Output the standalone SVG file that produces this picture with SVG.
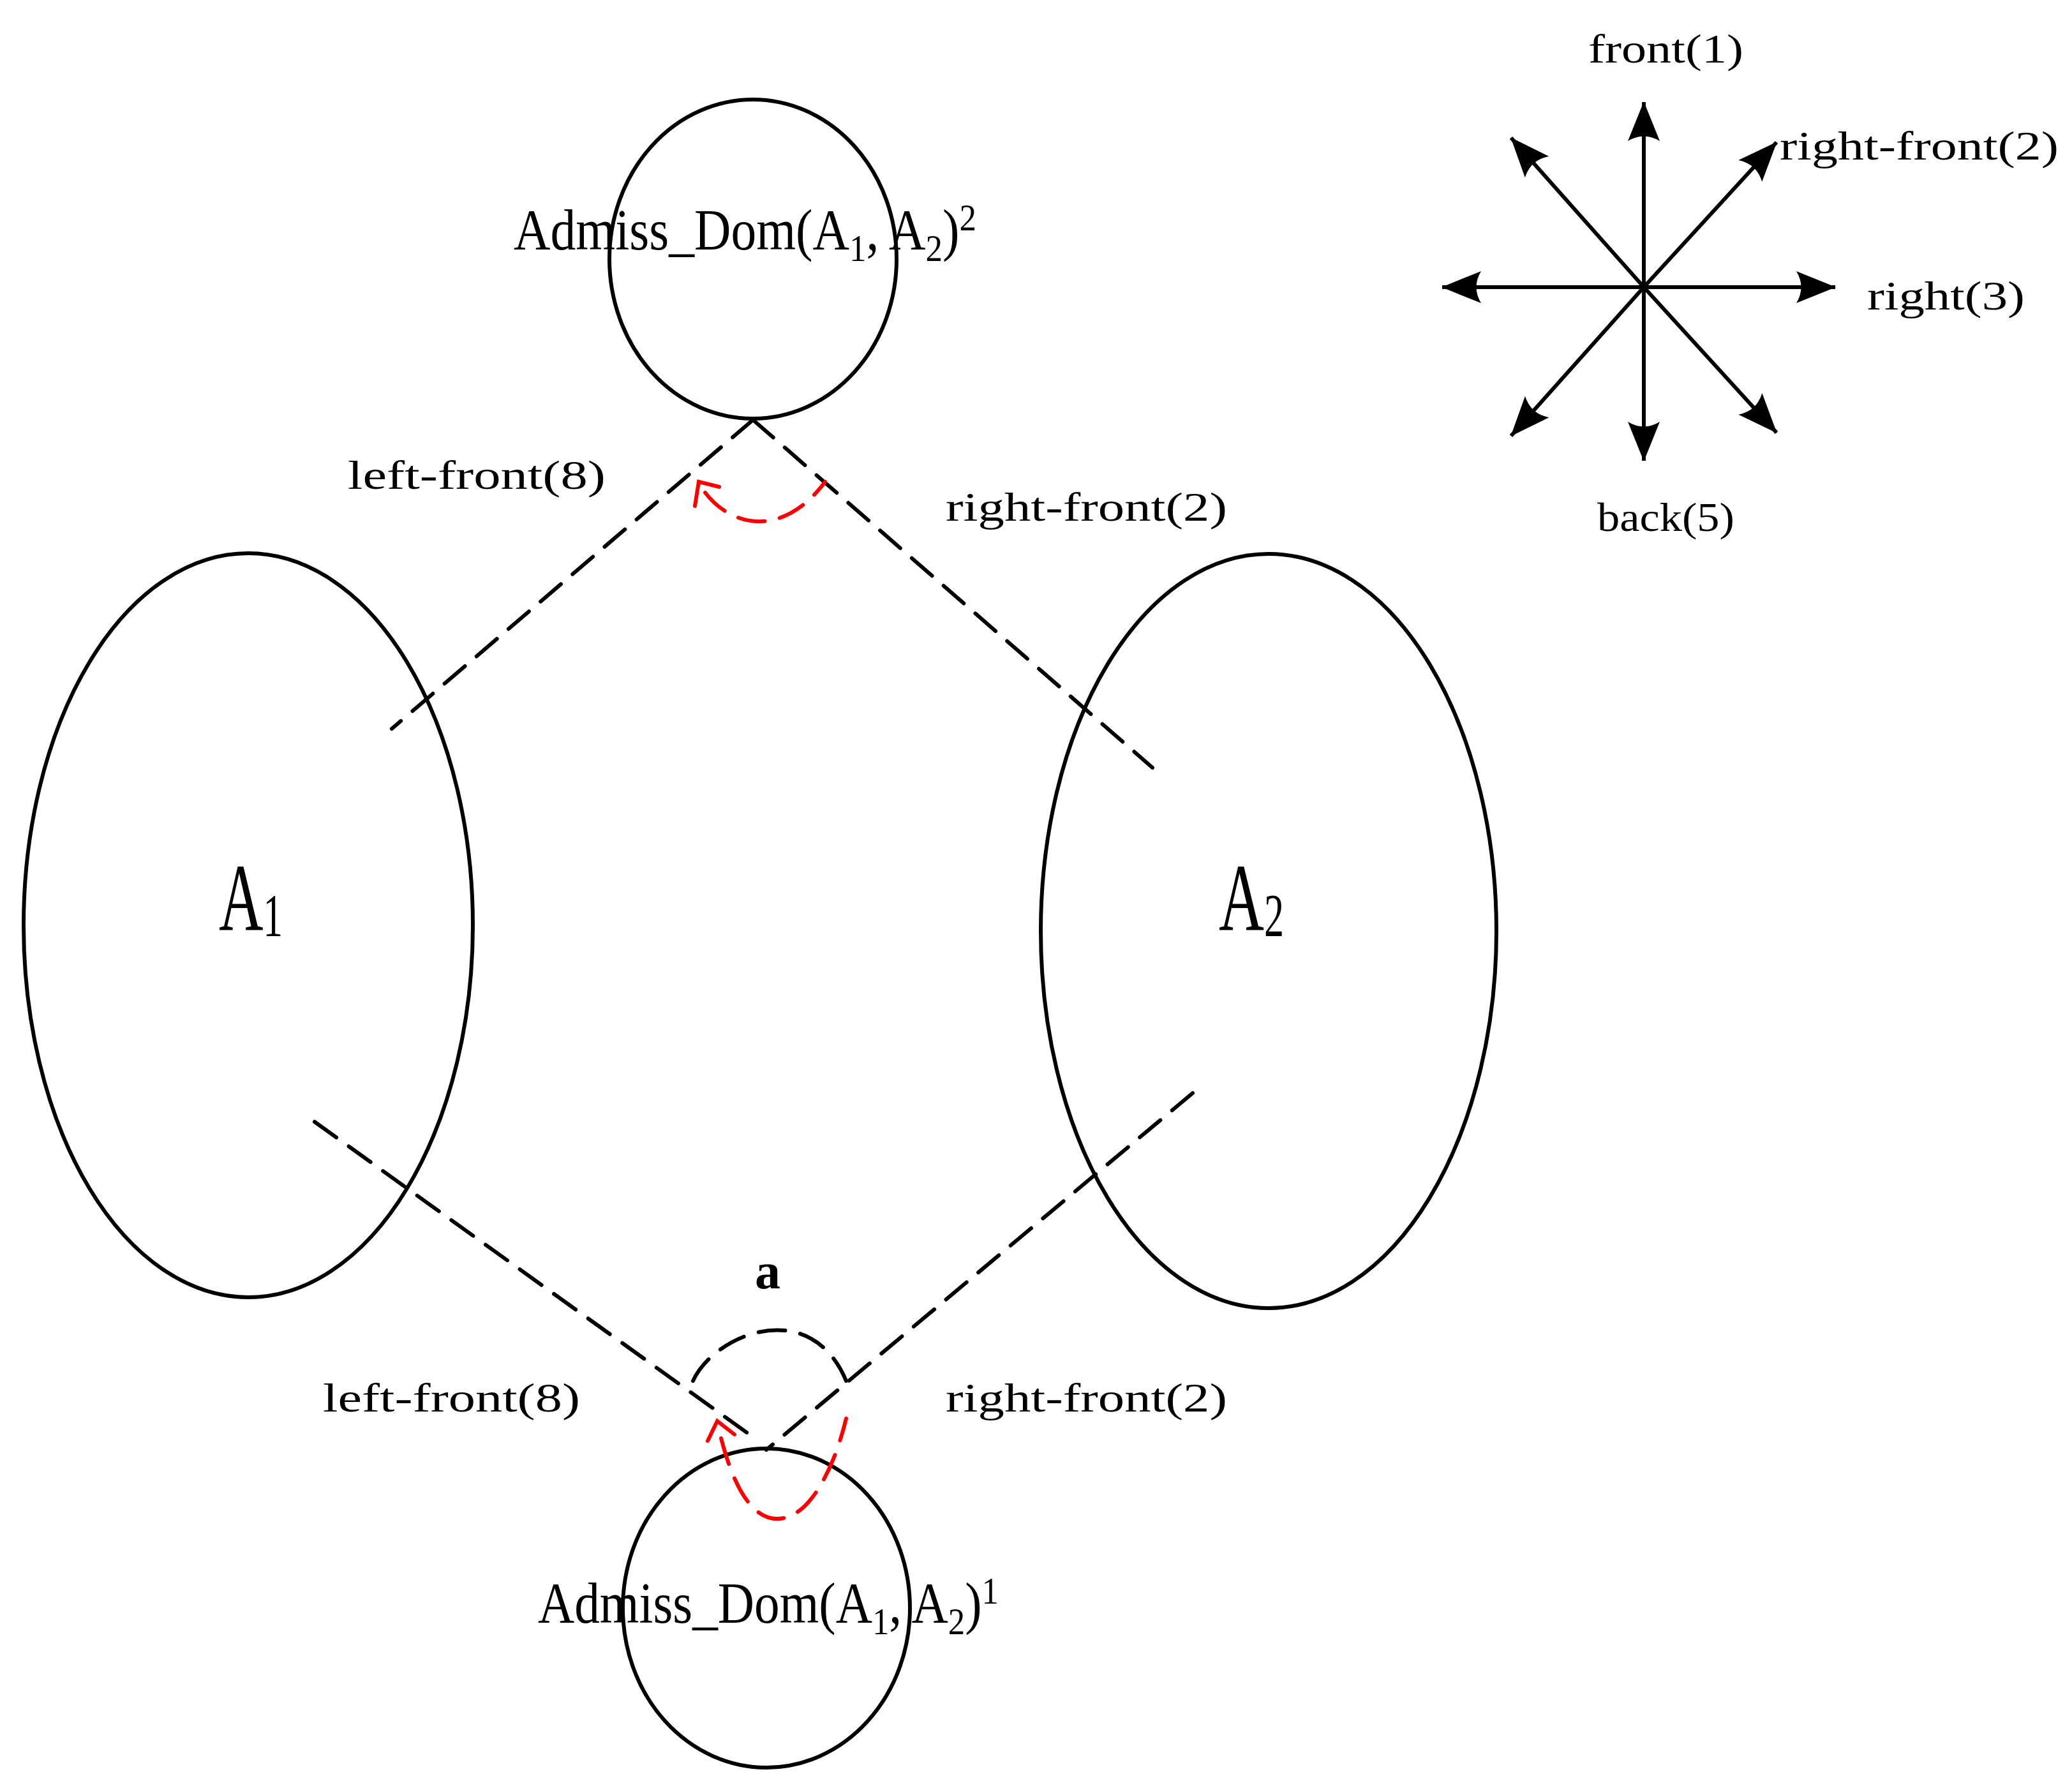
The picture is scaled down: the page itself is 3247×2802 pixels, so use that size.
<svg xmlns="http://www.w3.org/2000/svg" width="3247" height="2802" viewBox="0 0 3247 2802">
<style>
.n{fill:none;stroke:#000;stroke-width:6}
.d{fill:none;stroke:#000;stroke-width:6;stroke-dasharray:42 24;stroke-linecap:round}
.r{fill:none;stroke:#f00;stroke-width:6;stroke-dasharray:42 24;stroke-linecap:round}
.ra{fill:none;stroke:#f00;stroke-width:6;stroke-linecap:round}
.c{stroke:#000;stroke-width:6;fill:none}
text{font-family:"Liberation Serif",serif;fill:#000}
.l{font-size:64px}
.b{font-size:90px}
.big{font-size:150px}
</style>
<defs>
<marker id="ah" viewBox="0 0 12 10" refX="11" refY="5" markerWidth="12" markerHeight="10" markerUnits="userSpaceOnUse" orient="auto" overflow="visible">
<path d="M-50,-20 L12,5 L-50,30 Q-35,5 -50,-20 Z" fill="#000"/>
</marker>
</defs>
<rect width="3247" height="2802" fill="#fff"/>
<g id="top"><ellipse class="n" cx="1180" cy="406" rx="225" ry="250"/>
<text class="b" x="805" y="391" textLength="725" lengthAdjust="spacingAndGlyphs">Admiss_Dom(A<tspan font-size="60" dy="18">1</tspan><tspan dy="-18">, A</tspan><tspan font-size="60" dy="18">2</tspan><tspan dy="-18">)</tspan><tspan font-size="60" dy="-30">2</tspan></text></g>
<g id="bottom"><ellipse class="n" cx="1201" cy="2520" rx="225" ry="250"/>
<text class="b" x="843" y="2543" textLength="722" lengthAdjust="spacingAndGlyphs">Admiss_Dom(A<tspan font-size="60" dy="18">1</tspan><tspan dy="-18">, A</tspan><tspan font-size="60" dy="18">2</tspan><tspan dy="-18">)</tspan><tspan font-size="60" dy="-30">1</tspan></text></g>
<g id="A1"><ellipse class="n" cx="389" cy="1450" rx="352" ry="583"/>
<text class="big" x="343" y="1457" textLength="100" lengthAdjust="spacingAndGlyphs">A<tspan font-size="95" dy="10">1</tspan></text></g>
<g id="A2"><ellipse class="n" cx="1988" cy="1459" rx="357" ry="591"/>
<text class="big" x="1910" y="1457" textLength="102" lengthAdjust="spacingAndGlyphs">A<tspan font-size="95" dy="10">2</tspan></text></g>
<g id="connectors">
<path class="d" d="M1180,658 L614,1142"/>
<path class="d" d="M1180,658 L1806,1203"/>
<path class="d" d="M493,1758 L1180,2252"/>
<path class="d" d="M1869,1713 L1201,2272"/>
<path class="d" d="M1086,2164 C1120,2090 1270,2030 1326,2164"/>
<path class="r" d="M1105,772 C1150,830 1230,840 1293,755"/>
<path class="ra" d="M1089,793 L1095,755 L1127,763"/>
<path class="r" d="M1130,2254 C1160,2370 1200,2385 1228,2379 C1275,2370 1310,2290 1326,2223"/>
<path class="ra" d="M1109,2258 L1124,2227 L1151,2248"/>
</g>
<g id="labels">
<text class="l" x="545" y="766" textLength="404" lengthAdjust="spacingAndGlyphs">left-front(8)</text>
<text class="l" x="1482" y="816" textLength="441" lengthAdjust="spacingAndGlyphs">right-front(2)</text>
<text class="l" x="506" y="2212" textLength="403" lengthAdjust="spacingAndGlyphs">left-front(8)</text>
<text class="l" x="1482" y="2212" textLength="441" lengthAdjust="spacingAndGlyphs">right-front(2)</text>
<text x="1203" y="2019" font-size="80" font-weight="bold" text-anchor="middle">a</text>
</g>
<g id="compass">
<line class="c" x1="2576" y1="450" x2="2576" y2="160" marker-end="url(#ah)"/>
<line class="c" x1="2576" y1="450" x2="2576" y2="722" marker-end="url(#ah)"/>
<line class="c" x1="2576" y1="450" x2="2260" y2="450" marker-end="url(#ah)"/>
<line class="c" x1="2576" y1="450" x2="2876" y2="450" marker-end="url(#ah)"/>
<line class="c" x1="2576" y1="450" x2="2784" y2="223" marker-end="url(#ah)"/>
<line class="c" x1="2576" y1="450" x2="2368" y2="216" marker-end="url(#ah)"/>
<line class="c" x1="2576" y1="450" x2="2368" y2="683" marker-end="url(#ah)"/>
<line class="c" x1="2576" y1="450" x2="2784" y2="678" marker-end="url(#ah)"/>
<text class="l" x="2489" y="98" textLength="243" lengthAdjust="spacingAndGlyphs">front(1)</text>
<text class="l" x="2789" y="250" textLength="437" lengthAdjust="spacingAndGlyphs">right-front(2)</text>
<text class="l" x="2926" y="485" textLength="247" lengthAdjust="spacingAndGlyphs">right(3)</text>
<text class="l" x="2503" y="832" textLength="215" lengthAdjust="spacingAndGlyphs">back(5)</text>
</g>
</svg>
